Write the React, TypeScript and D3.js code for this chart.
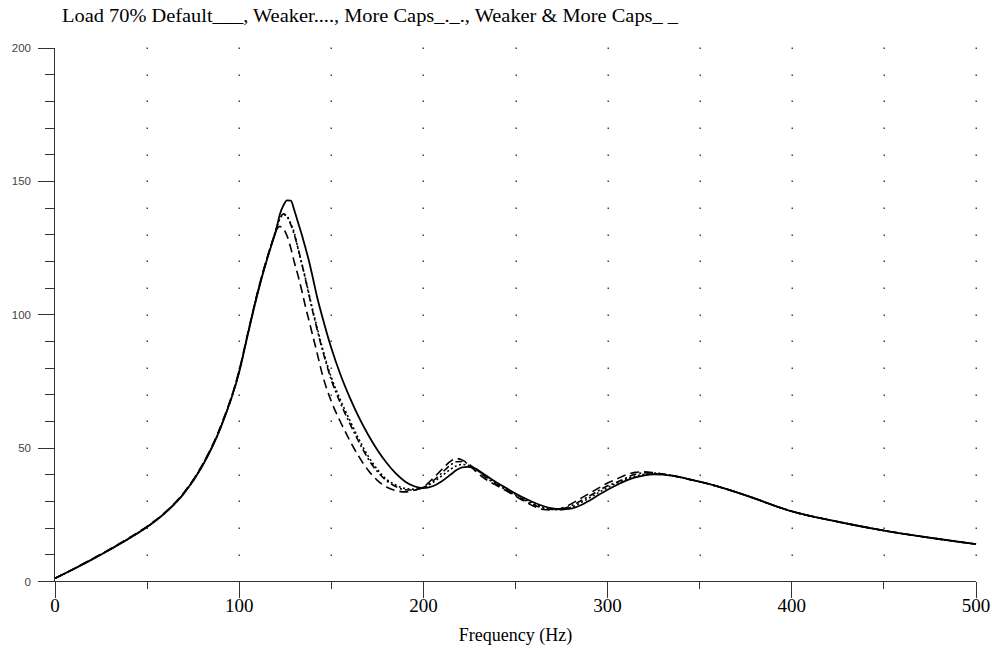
import React, { useRef, useEffect } from 'react';
import * as d3 from 'd3';

// Frequency sample points (Hz)
const freqs = [
  0, 10, 20, 30, 40, 50, 60, 70, 80, 90, 100, 105, 110, 115, 118,
  120, 122, 124, 126, 128, 130, 132, 134, 136, 138, 140, 142,
  145, 150, 155, 160, 165, 170, 175, 180, 185, 190, 195, 200, 205, 210, 215,
  218, 221, 224, 228, 232, 236,
  240, 245, 250, 255, 260, 265, 270, 275, 280, 285, 290, 295, 300, 305, 310, 315,
  320, 325, 330, 335, 340, 345, 350,
  360, 375, 400, 425, 450, 475, 500,
];

const defaultLoad = [
  1.2, 4.6, 8.2, 12.0, 16.0, 20.4, 25.8, 33, 43.3, 57.8, 78.5, 93.5, 108, 120.5, 127.2,
  131.5, 137.5, 141, 142.9, 142.8, 139, 134.5, 130, 125, 119.8, 113.8, 107.5,
  99.5, 87.5, 77.5, 69, 61.5, 55, 49.3, 44.5, 40.5, 37.5, 35.7, 35, 35.7, 37.6, 40.2,
  41.8, 42.8, 43, 42.4, 40.7, 38.8,
  37, 35, 33, 31.2, 29.6, 28.3, 27.4, 27, 27.3, 28.5, 30.3, 32.4, 34.4, 36.2, 37.8, 39,
  39.8, 40.2, 40.1, 39.7, 39, 38.2, 37.4,
  35.6, 32.3, 26.3, 22.4, 19.1, 16.4, 14,
];

const weaker = [
  1.2, 4.65, 8.3, 12.1, 16.1, 20.5, 25.9, 33.1, 43.5, 58, 78.8, 93.8, 108.3, 120.8, 127.5,
  132, 135.8, 137.5, 136.8, 134.2, 130.5, 124.5, 119, 113.5, 107.5, 101.5, 96,
  88, 76.5, 68, 60.5, 53.3, 47, 42, 38.3, 36.2, 34.9, 34.6, 35.2, 37, 39.6, 42.2,
  43.4, 43.9, 43.6, 42.2, 40.3, 38.4,
  36.7, 34.7, 32.7, 30.8, 29.1, 27.8, 27.1, 27, 27.8, 29.4, 31.3, 33.3, 35.2, 36.9, 38.4, 39.5,
  40.2, 40.4, 40.2, 39.7, 39, 38.2, 37.4,
  35.6, 32.3, 26.3, 22.4, 19.1, 16.4, 14,
];

const moreCaps = [
  1.2, 4.65, 8.3, 12.1, 16.1, 20.5, 25.9, 33.1, 43.5, 58, 78.8, 93.8, 108.3, 120.8, 127.5,
  132, 136, 137.8, 136.8, 133.8, 129.8, 124.8, 119.2, 113.2, 107, 101, 95.3,
  87.3, 75.6, 66.8, 59.3, 52.3, 46, 41.2, 37.8, 35.6, 34.4, 34.3, 35.3, 37.6, 40.7, 43.8,
  44.9, 45, 44.2, 42.3, 40.1, 38,
  36.3, 34.3, 32.3, 30.4, 28.7, 27.5, 27, 27.2, 28.3, 30.1, 32, 34, 35.9, 37.2, 38.8, 40.2,
  40.7, 40.7, 40.3, 39.7, 39, 38.2, 37.4,
  35.6, 32.3, 26.3, 22.4, 19.1, 16.4, 14,
];

const weakerMoreCaps = [
  1.2, 4.7, 8.4, 12.2, 16.3, 20.7, 26.1, 33.4, 43.8, 58.4, 79.2, 94.2, 108.6, 121, 127.5,
  131.5, 133.1, 132.3, 129.5, 125, 119.5, 114.5, 109, 103, 97.5, 92, 86.5,
  78, 67.5, 59.8, 52.9, 46.8, 41.7, 37.9, 35.4, 34.1, 33.6, 34.2, 35.5, 38.5, 42, 45.2,
  46.1, 45.6, 44.2, 41.6, 39.2, 37.4,
  35.9, 34, 32, 30, 28.2, 27, 26.8, 27.5, 29, 31, 33, 35, 36.9, 38.4, 40, 40.9,
  41.1, 40.8, 40.3, 39.7, 39, 38.2, 37.4,
  35.6, 32.3, 26.3, 22.4, 19.1, 16.4, 14,
];

const seriesStyles = [
  { values: defaultLoad, dash: null, width: 1.8 },
  { values: weaker, dash: '2,2.5', width: 1.6 },
  { values: moreCaps, dash: '7,3,2,3', width: 1.6 },
  { values: weakerMoreCaps, dash: '9,5', width: 1.6 },
];

const xMajorTicks = [0, 100, 200, 300, 400, 500];
const xMinorTicks = [50, 150, 250, 350, 450];
const yMajorTicks = [0, 50, 100, 150, 200];
const yMinorTicks = d3.range(10, 200, 10).filter(v => v % 50 !== 0);
const gridX = d3.range(50, 501, 50);
const gridY = d3.range(10, 201, 10);

const titleText = 'Load 70% Default___, Weaker...., More Caps_._., Weaker & More Caps_ _';

const App: React.FC = () => {
  const chartRef = useRef<SVGSVGElement | null>(null);

  useEffect(() => {
    if (!chartRef.current) return;
    d3.select(chartRef.current).selectAll('*').remove();

    const width = 992;
    const height = 653;
    const svg = d3.select(chartRef.current)
      .attr('width', width)
      .attr('height', height);

    const x = d3.scaleLinear().domain([0, 500]).range([55, 976]);
    const y = d3.scaleLinear().domain([0, 200]).range([581.5, 48]);

    const serif = '"Liberation Serif", "Times New Roman", serif';

    // Title
    svg.append('text')
      .attr('x', 62)
      .attr('y', 22)
      .attr('font-family', serif)
      .attr('font-size', 18)
      .attr('textLength', 616)
      .attr('lengthAdjust', 'spacingAndGlyphs')
      .attr('fill', '#000')
      .text(titleText);

    // Dotted grid
    const dots = svg.append('g').attr('fill', '#444');
    gridX.forEach(gx => {
      gridY.forEach(gy => {
        dots.append('rect')
          .attr('x', Math.round(x(gx)) - 0.5)
          .attr('y', Math.round(y(gy)) - 0.5)
          .attr('width', 1.5)
          .attr('height', 1.5);
      });
    });

    // Axes
    const axis = svg.append('g').attr('stroke', '#333').attr('stroke-width', 1).attr('shape-rendering', 'crispEdges');
    axis.append('line')
      .attr('x1', x(0)).attr('x2', x(500))
      .attr('y1', y(0)).attr('y2', y(0));
    axis.append('line')
      .attr('x1', x(0) - 1).attr('x2', x(0) - 1)
      .attr('y1', y(200)).attr('y2', y(0));

    xMajorTicks.forEach(t => {
      axis.append('line')
        .attr('x1', x(t)).attr('x2', x(t))
        .attr('y1', y(0)).attr('y2', y(0) + 16);
    });
    xMinorTicks.forEach(t => {
      axis.append('line')
        .attr('x1', x(t)).attr('x2', x(t))
        .attr('y1', y(0)).attr('y2', y(0) + 7);
    });
    yMajorTicks.forEach(t => {
      axis.append('line')
        .attr('x1', x(0) - 17).attr('x2', x(0) - 1)
        .attr('y1', y(t)).attr('y2', y(t));
    });
    yMinorTicks.forEach(t => {
      axis.append('line')
        .attr('x1', x(0) - 10).attr('x2', x(0) - 1)
        .attr('y1', y(t)).attr('y2', y(t));
    });

    // Y tick labels
    svg.append('g')
      .selectAll('text')
      .data(yMajorTicks)
      .join('text')
      .attr('x', 31)
      .attr('y', d => y(d) + 4)
      .attr('text-anchor', 'end')
      .attr('font-family', '"Liberation Sans", Arial, sans-serif')
      .attr('font-size', 11.5)
      .attr('fill', '#444')
      .text(d => d);

    // X tick labels
    svg.append('g')
      .selectAll('text')
      .data(xMajorTicks)
      .join('text')
      .attr('x', d => x(d))
      .attr('y', 612)
      .attr('text-anchor', 'middle')
      .attr('font-family', serif)
      .attr('font-size', 19)
      .attr('fill', '#000')
      .text(d => d);

    // X axis title
    svg.append('text')
      .attr('x', (x(0) + x(500)) / 2)
      .attr('y', 641)
      .attr('text-anchor', 'middle')
      .attr('font-family', serif)
      .attr('font-size', 18)
      .attr('fill', '#000')
      .text('Frequency (Hz)');

    // Curves
    const line = d3.line<number>()
      .x((_, i) => x(freqs[i]))
      .y(d => y(d))
      .curve(d3.curveMonotoneX);

    seriesStyles.forEach(s => {
      const p = svg.append('path')
        .datum(s.values)
        .attr('fill', 'none')
        .attr('stroke', '#000')
        .attr('stroke-width', s.width)
        .attr('stroke-linejoin', 'round')
        .attr('d', line);
      if (s.dash) p.attr('stroke-dasharray', s.dash);
    });
  }, []);

  return (
    <div style={{ position: 'absolute', left: 0, top: 0, background: '#fff' }}>
      <svg ref={chartRef} style={{ display: 'block' }} />
    </div>
  );
};

export default App;
